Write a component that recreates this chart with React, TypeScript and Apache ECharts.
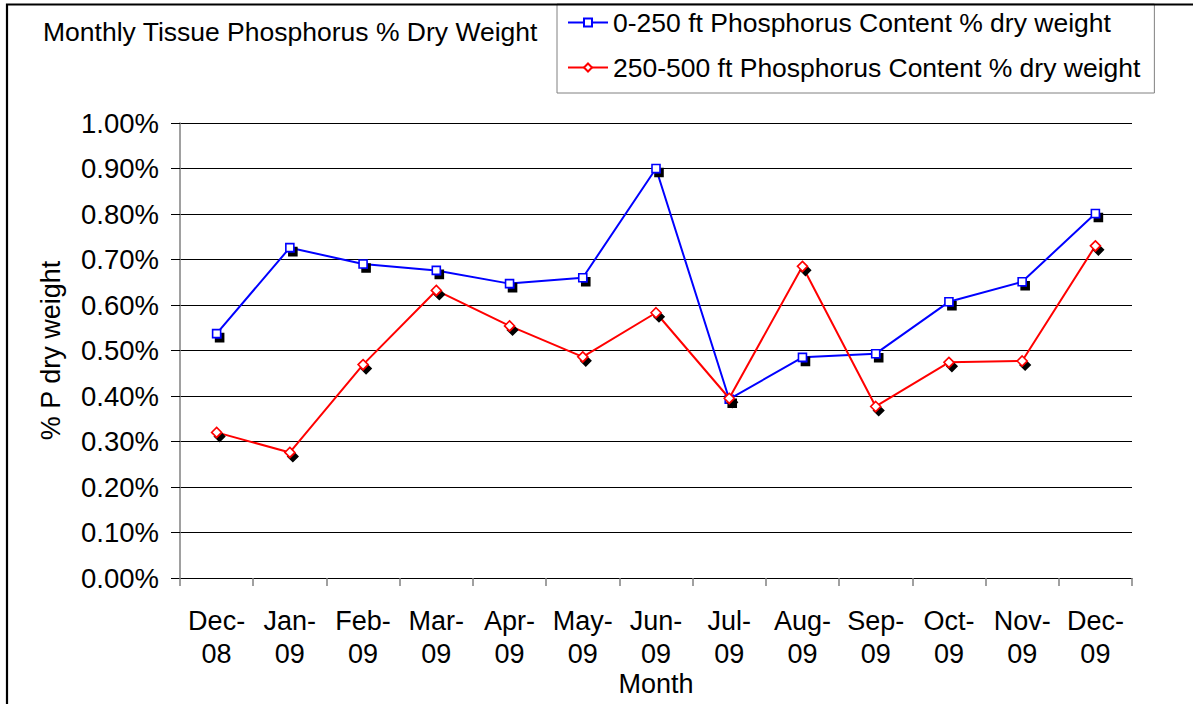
import React, { useEffect, useRef } from "react";
import * as echarts from "echarts";

const categories = [
  "Dec-08", "Jan-09", "Feb-09", "Mar-09", "Apr-09", "May-09", "Jun-09",
  "Jul-09", "Aug-09", "Sep-09", "Oct-09", "Nov-09", "Dec-09",
];
const shallowName = "0-250 ft Phosphorus Content % dry weight";
const deepName = "250-500 ft Phosphorus Content % dry weight";
const shallowValues = [0.537, 0.726, 0.69, 0.676, 0.647, 0.66, 0.9, 0.393, 0.485, 0.493, 0.607, 0.651, 0.801];
const deepValues = [0.32, 0.276, 0.469, 0.632, 0.554, 0.486, 0.583, 0.395, 0.685, 0.377, 0.474, 0.477, 0.73];
const yMin = 0;
const yMax = 1;
const yInterval = 0.1;

const FONT = "'Liberation Sans', Arial, sans-serif";

export default function App() {
  const ref = useRef<HTMLDivElement>(null);
  useEffect(() => {
    document.body.style.margin = "0";
    if (!ref.current) return;
    const chart = echarts.init(ref.current, undefined, { renderer: "svg" });
    const shadow = { shadowColor: "#000", shadowOffsetX: 3, shadowOffsetY: 4, shadowBlur: 0 };
    chart.setOption({
      animation: false,
      textStyle: { fontFamily: FONT, color: "#000" },
      title: {
        text: "Monthly Tissue Phosphorus % Dry Weight",
        left: 43,
        top: 17,
        padding: 0,
        textStyle: { fontSize: 26.5, fontWeight: "normal", color: "#000", fontFamily: FONT, lineHeight: 30 },
      },
      legend: {
        orient: "vertical",
        left: 557,
        top: 4,
        padding: [5, 14, 12, 10],
        itemGap: 18,
        itemWidth: 40,
        itemHeight: 10,
        borderColor: "#808080",
        borderWidth: 1,
        backgroundColor: "#fff",
        textStyle: { fontSize: 26.5, color: "#000", fontFamily: FONT },
        itemStyle: { shadowBlur: 0, shadowOffsetX: 0, shadowOffsetY: 0, shadowColor: "rgba(0,0,0,0)" },
        data: [shallowName, deepName],
      },
      grid: { left: 180, right: 61, top: 123, bottom: 126, containLabel: false, outerBoundsMode: "none" },
      xAxis: {
        type: "category",
        data: categories,
        boundaryGap: true,
        axisLine: { show: true, lineStyle: { color: "#000", width: 1 } },
        axisTick: { show: true, length: 8, alignWithLabel: false, lineStyle: { color: "#808080", width: 1.5 } },
        axisLabel: {
          interval: 0,
          formatter: (v: string) => v.replace("-", "-\n"),
          fontSize: 27,
          lineHeight: 33,
          margin: 26,
          color: "#000",
          fontFamily: FONT,
        },
        name: "Month",
        nameLocation: "middle",
        nameGap: 92,
        nameMoveOverlap: false,
        nameTextStyle: { fontSize: 27, color: "#000", fontFamily: FONT },
      },
      yAxis: {
        type: "value",
        min: yMin,
        max: yMax,
        interval: yInterval,
        axisLine: { show: true, lineStyle: { color: "#808080", width: 1.5 } },
        axisTick: { show: true, length: 9, lineStyle: { color: "#000", width: 1 } },
        splitLine: { show: true, lineStyle: { color: "#000", width: 1 } },
        axisLabel: {
          formatter: (v: number) => v.toFixed(2) + "%",
          fontSize: 27.5,
          margin: 21,
          color: "#000",
          fontFamily: FONT,
        },
        name: "% P dry weight",
        nameLocation: "middle",
        nameGap: 116,
        nameRotate: 90,
        nameMoveOverlap: false,
        nameTextStyle: { fontSize: 27, color: "#000", fontFamily: FONT },
      },
      graphic: [
        {
          type: "rect",
          silent: true,
          z: 100,
          shape: { x: 7, y: 4.5, width: 1400, height: 900 },
          style: { fill: "none", stroke: "#000", lineWidth: 2.2 },
        },
      ],
      series: [
        {
          name: shallowName,
          type: "line",
          data: shallowValues,
          symbol: "rect",
          symbolSize: 8,
          showAllSymbol: true,
          lineStyle: { color: "#0000FF", width: 2 },
          itemStyle: { color: "#fff", borderColor: "#0000FF", borderWidth: 1.6, ...shadow },
          z: 3,
        },
        {
          name: deepName,
          type: "line",
          data: deepValues,
          symbol: "diamond",
          symbolSize: 10,
          showAllSymbol: true,
          lineStyle: { color: "#FF0000", width: 2 },
          itemStyle: { color: "#fff", borderColor: "#FF0000", borderWidth: 1.6, ...shadow },
          z: 4,
        },
      ],
    });
    return () => chart.dispose();
  }, []);
  return <div ref={ref} style={{ width: 1193, height: 704 }} />;
}
